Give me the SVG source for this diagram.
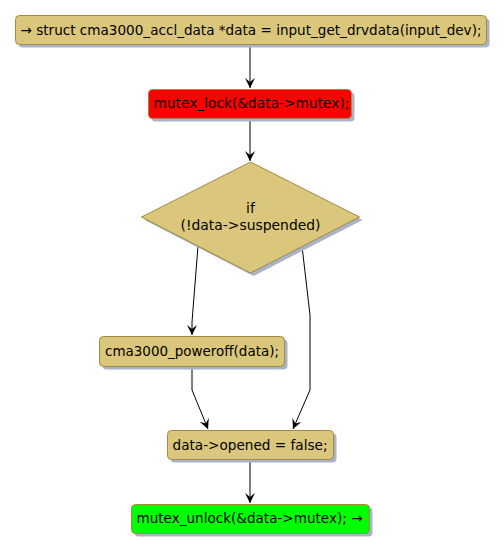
<svg xmlns="http://www.w3.org/2000/svg" width="504" height="553" viewBox="0 0 504 553">
<style>
.box{stroke:#A08A45;stroke-width:1}
.act{fill:#DBC77B}
.sh{fill:#A9B3C9}
.t{font-family:"DejaVu Sans",sans-serif;font-size:14px;fill:#000}
.ln{fill:none;stroke:#000;stroke-width:1}
</style>
<defs>
<marker id="ah" markerWidth="12" markerHeight="12" refX="10" refY="5" orient="auto" markerUnits="userSpaceOnUse">
<path d="M0,0 L10,5 L0,10 L4,5 Z" fill="#000"/>
</marker>
</defs>
<rect width="504" height="553" fill="#fff"/>
<g id="connectors">
<line class="ln" x1="250" y1="45" x2="250" y2="88" marker-end="url(#ah)"/>
<line class="ln" x1="250" y1="119" x2="250" y2="161" marker-end="url(#ah)"/>
<polyline class="ln" points="198,246 192,322 192,335" marker-end="url(#ah)"/>
<polyline class="ln" points="302,246 310,315 310,390 293,429" marker-end="url(#ah)"/>
<polyline class="ln" points="192,367 192,390 208,429" marker-end="url(#ah)"/>
<line class="ln" x1="250" y1="460" x2="250" y2="503" marker-end="url(#ah)"/>
</g>
<g id="n1">
<rect class="sh" x="18.5" y="18.5" width="471" height="29" rx="4"/>
<rect class="box act" x="15.5" y="15.5" width="471" height="29" rx="4"/>
<text class="t" x="20.5" y="35" textLength="461" lengthAdjust="spacingAndGlyphs">→ struct cma3000_accl_data *data = input_get_drvdata(input_dev);</text>
</g>
<g id="n2">
<rect class="sh" x="151.5" y="92.5" width="203" height="29" rx="4"/>
<rect class="box" fill="#FF0000" x="148.5" y="89.5" width="203" height="29" rx="4"/>
<text class="t" x="153.5" y="108" textLength="196" lengthAdjust="spacingAndGlyphs">mutex_lock(&amp;data-&gt;mutex);</text>
</g>
<g id="n3">
<polygon class="sh" points="253.5,165 362.5,220 253.5,276 144.5,220"/>
<polygon class="box act" points="250.5,162 359.5,217 250.5,273 141.5,217"/>
<text class="t" x="250.5" y="213" text-anchor="middle">if</text>
<text class="t" x="250.5" y="230" text-anchor="middle" textLength="140" lengthAdjust="spacingAndGlyphs">(!data-&gt;suspended)</text>
</g>
<g id="n4">
<rect class="sh" x="102.5" y="339.5" width="185" height="30" rx="4"/>
<rect class="box act" x="99.5" y="336.5" width="185" height="30" rx="4"/>
<text class="t" x="105" y="356" textLength="174" lengthAdjust="spacingAndGlyphs">cma3000_poweroff(data);</text>
</g>
<g id="n5">
<rect class="sh" x="170.5" y="433.5" width="166" height="29" rx="4"/>
<rect class="box act" x="167.5" y="430.5" width="166" height="29" rx="4"/>
<text class="t" x="172.5" y="450" textLength="155" lengthAdjust="spacingAndGlyphs">data-&gt;opened = false;</text>
</g>
<g id="n6">
<rect class="sh" x="134.5" y="507.5" width="238" height="29" rx="4"/>
<rect class="box" fill="#00FF00" x="131.5" y="504.5" width="238" height="29" rx="4"/>
<text class="t" x="136.5" y="523" textLength="226" lengthAdjust="spacingAndGlyphs">mutex_unlock(&amp;data-&gt;mutex); →</text>
</g>
</svg>
